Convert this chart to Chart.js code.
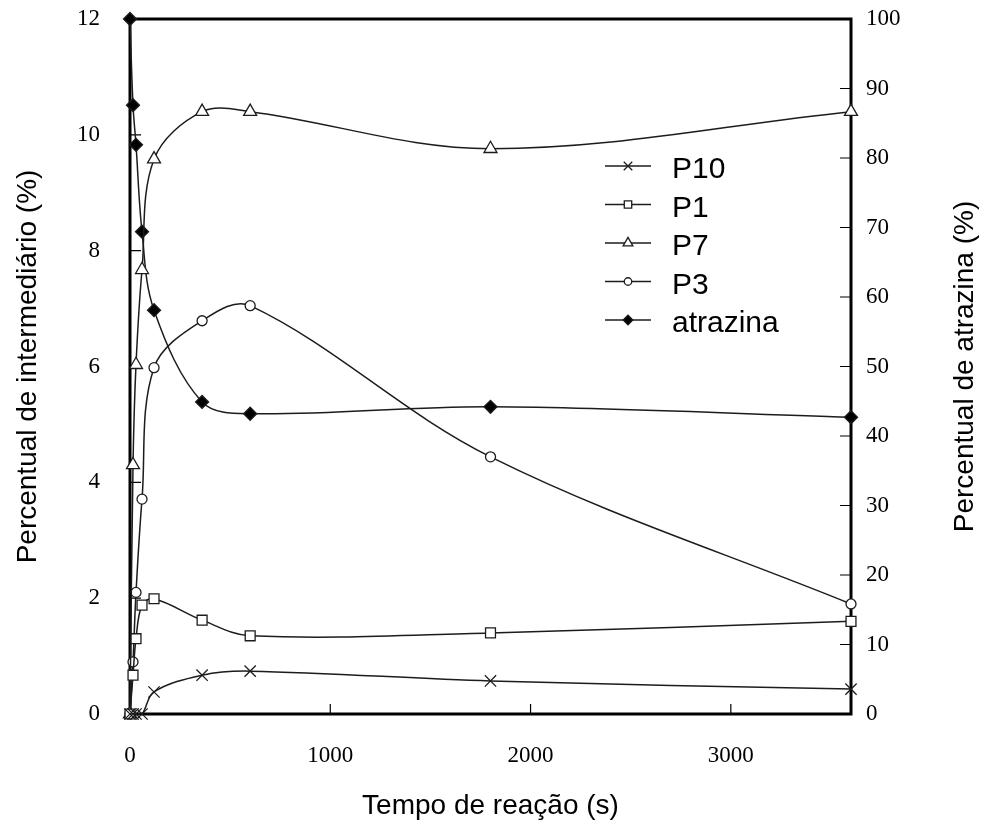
<!DOCTYPE html>
<html lang="pt">
<head>
<meta charset="utf-8">
<title>Percentual de intermediário e atrazina</title>
<script src="https://cdn.jsdelivr.net/npm/chart.js@4.4.1/dist/chart.umd.min.js"></script>
<style>
    html, body { margin: 0; padding: 0; background: #fff; }
</style>
</head>
<body>
<canvas id="chart" width="989" height="825"></canvas>
<script>
// Tempo de reação (s)
const tempo = [0, 15, 30, 60, 120, 360, 600, 1800, 3600];

// Intermediários (% - eixo esquerdo)
const p10 = [0, 0, 0, 0, 0.38, 0.67, 0.74, 0.57, 0.43];
const p1 = [0, 0.67, 1.3, 1.88, 1.99, 1.62, 1.35, 1.4, 1.6];
const p7 = [0, 4.3, 6.03, 7.67, 9.58, 10.4, 10.4, 9.76, 10.4];
const p3 = [0, 0.9, 2.1, 3.71, 5.98, 6.79, 7.05, 4.44, 1.9];

// Atrazina (% - eixo direito)
const atrazina = [100, 87.6, 81.9, 69.4, 58.1, 44.9, 43.2, 44.2, 42.7];

const xTicks = [0, 1000, 2000, 3000];
const yTicks = [0, 2, 4, 6, 8, 10, 12];
const y1Ticks = [0, 10, 20, 30, 40, 50, 60, 70, 80, 90, 100];

(function() {
    'use strict';

    const LINE = '#1c1c1c';
    const SERIF = '"Liberation Serif", "Times New Roman", serif';
    const SANS = '"Liberation Sans", Arial, sans-serif';
    const RIGHT_TITLE = 'Percentual de atrazina (%)';
    const TITLE_SIZE = 28;

    function toPoints(values) {
        return tempo.map((t, i) => ({ x: t, y: values[i] }));
    }

    function series(label, values, style, radius, filled, axis) {
        return {
            label: label,
            data: toPoints(values),
            yAxisID: axis || 'y',
            showLine: true,
            borderColor: LINE,
            borderWidth: 1.5,
            tension: 0.35,
            pointStyle: style,
            pointRadius: radius,
            pointHoverRadius: radius,
            pointBorderColor: LINE,
            pointBorderWidth: 1.3,
            pointBackgroundColor: filled ? '#000' : '#fff',
            clip: 10
        };
    }

    function keepTicks(list) {
        return function(scale) {
            scale.ticks = list.map(v => ({ value: v }));
        };
    }

    // fixed box size, no extra room for label overhang
    function fitBox(size, vertical) {
        return function(scale) {
            if (vertical) scale.width = size; else scale.height = size;
            scale.paddingTop = 0;
            scale.paddingBottom = 0;
            scale.paddingLeft = 0;
            scale.paddingRight = 0;
        };
    }

    // frame + inward tick marks, drawn under the markers
    const framePlugin = {
        id: 'frame',
        beforeDatasetsDraw(chart) {
            const { ctx, chartArea: a, scales } = chart;
            ctx.save();
            ctx.strokeStyle = '#000';
            ctx.lineWidth = 1.2;
            ctx.beginPath();
            scales.x.ticks.forEach(t => {
                if (t.value <= scales.x.min || t.value >= scales.x.max) return;
                const px = scales.x.getPixelForValue(t.value);
                ctx.moveTo(px, a.bottom);
                ctx.lineTo(px, a.bottom - 10);
            });
            scales.y.ticks.forEach(t => {
                if (t.value <= scales.y.min || t.value >= scales.y.max) return;
                const py = scales.y.getPixelForValue(t.value);
                ctx.moveTo(a.left, py);
                ctx.lineTo(a.left + 11, py);
            });
            scales.y1.ticks.forEach(t => {
                if (t.value <= scales.y1.min || t.value >= scales.y1.max) return;
                const py = scales.y1.getPixelForValue(t.value);
                ctx.moveTo(a.right, py);
                ctx.lineTo(a.right - 11, py);
            });
            ctx.stroke();
            ctx.lineWidth = 3;
            ctx.strokeRect(a.left, a.top, a.right - a.left, a.bottom - a.top);

            // right title reads bottom-to-top like the left one
            ctx.translate(965, (a.top + a.bottom) / 2);
            ctx.rotate(-Math.PI / 2);
            ctx.fillStyle = '#000';
            ctx.font = TITLE_SIZE + 'px ' + SANS;
            ctx.textAlign = 'center';
            ctx.textBaseline = 'middle';
            ctx.fillText(RIGHT_TITLE, 0, 0);
            ctx.restore();
        }
    };

    // legend with a short line and the marker on it
    const legendPlugin = {
        id: 'lineLegend',
        afterDatasetsDraw(chart) {
            const { ctx } = chart;
            const x0 = 605, x1 = 651, textX = 672, top = 166, step = 38.5;
            ctx.save();
            chart.data.datasets.forEach((ds, i) => {
                const y = top + i * step;
                ctx.strokeStyle = LINE;
                ctx.lineWidth = 1.5;
                ctx.beginPath();
                ctx.moveTo(x0, y);
                ctx.lineTo(x1, y);
                ctx.stroke();
                ctx.fillStyle = ds.pointBackgroundColor;
                ctx.strokeStyle = LINE;
                ctx.lineWidth = 1.3;
                Chart.helpers.drawPoint(ctx, {
                    pointStyle: ds.pointStyle,
                    radius: ds.pointRadius * 0.75,
                    borderWidth: 1.3,
                    rotation: 0
                }, (x0 + x1) / 2, y);
                ctx.fillStyle = '#000';
                ctx.font = '30px ' + SANS;
                ctx.textBaseline = 'middle';
                ctx.textAlign = 'left';
                ctx.fillText(ds.label, textX, y + 4);
            });
            ctx.restore();
        }
    };

    const ctx = document.getElementById('chart');

    new Chart(ctx, {
        type: 'scatter',
        data: {
            datasets: [
                series('P10', p10, 'crossRot', 8, false),
                series('P1', p1, 'rect', 7, false),
                series('P7', p7, 'triangle', 7.5, false),
                series('P3', p3, 'circle', 5, false),
                series('atrazina', atrazina, 'rectRot', 6.5, true, 'y1')
            ]
        },
        options: {
            responsive: false,
            animation: false,
            devicePixelRatio: 1,
            layout: { padding: { top: 19, left: 0, right: 0, bottom: 0 } },
            plugins: {
                legend: { display: false },
                tooltip: { enabled: false }
            },
            scales: {
                x: {
                    type: 'linear',
                    min: 0,
                    max: 3600,
                    grid: { display: false, drawTicks: false },
                    border: { display: false },
                    afterBuildTicks: keepTicks(xTicks),
                    afterFit: fitBox(111, false),
                    ticks: {
                        padding: 28,
                        maxRotation: 0,
                        color: '#000',
                        font: { family: SERIF, size: 23 },
                        callback: v => String(v)
                    },
                    title: {
                        display: true,
                        text: 'Tempo de reação (s)',
                        color: '#000',
                        padding: { top: 0, bottom: 2 },
                        font: { family: SANS, size: TITLE_SIZE }
                    }
                },
                y: {
                    position: 'left',
                    min: 0,
                    max: 12,
                    grid: { display: false, drawTicks: false },
                    border: { display: false },
                    afterBuildTicks: keepTicks(yTicks),
                    afterFit: fitBox(130, true),
                    ticks: {
                        padding: 30,
                        color: '#000',
                        font: { family: SERIF, size: 23 },
                        callback: v => String(v)
                    },
                    title: {
                        display: true,
                        text: 'Percentual de intermediário (%)',
                        color: '#000',
                        padding: { top: 11, bottom: 0 },
                        font: { family: SANS, size: TITLE_SIZE }
                    }
                },
                y1: {
                    position: 'right',
                    min: 0,
                    max: 100,
                    grid: { display: false, drawTicks: false },
                    border: { display: false },
                    afterBuildTicks: keepTicks(y1Ticks),
                    afterFit: fitBox(138, true),
                    ticks: {
                        padding: 15,
                        color: '#000',
                        font: { family: SERIF, size: 23 },
                        callback: v => String(v)
                    },
                    title: { display: false }
                }
            }
        },
        plugins: [framePlugin, legendPlugin]
    });
})();
</script>
</body>
</html>
